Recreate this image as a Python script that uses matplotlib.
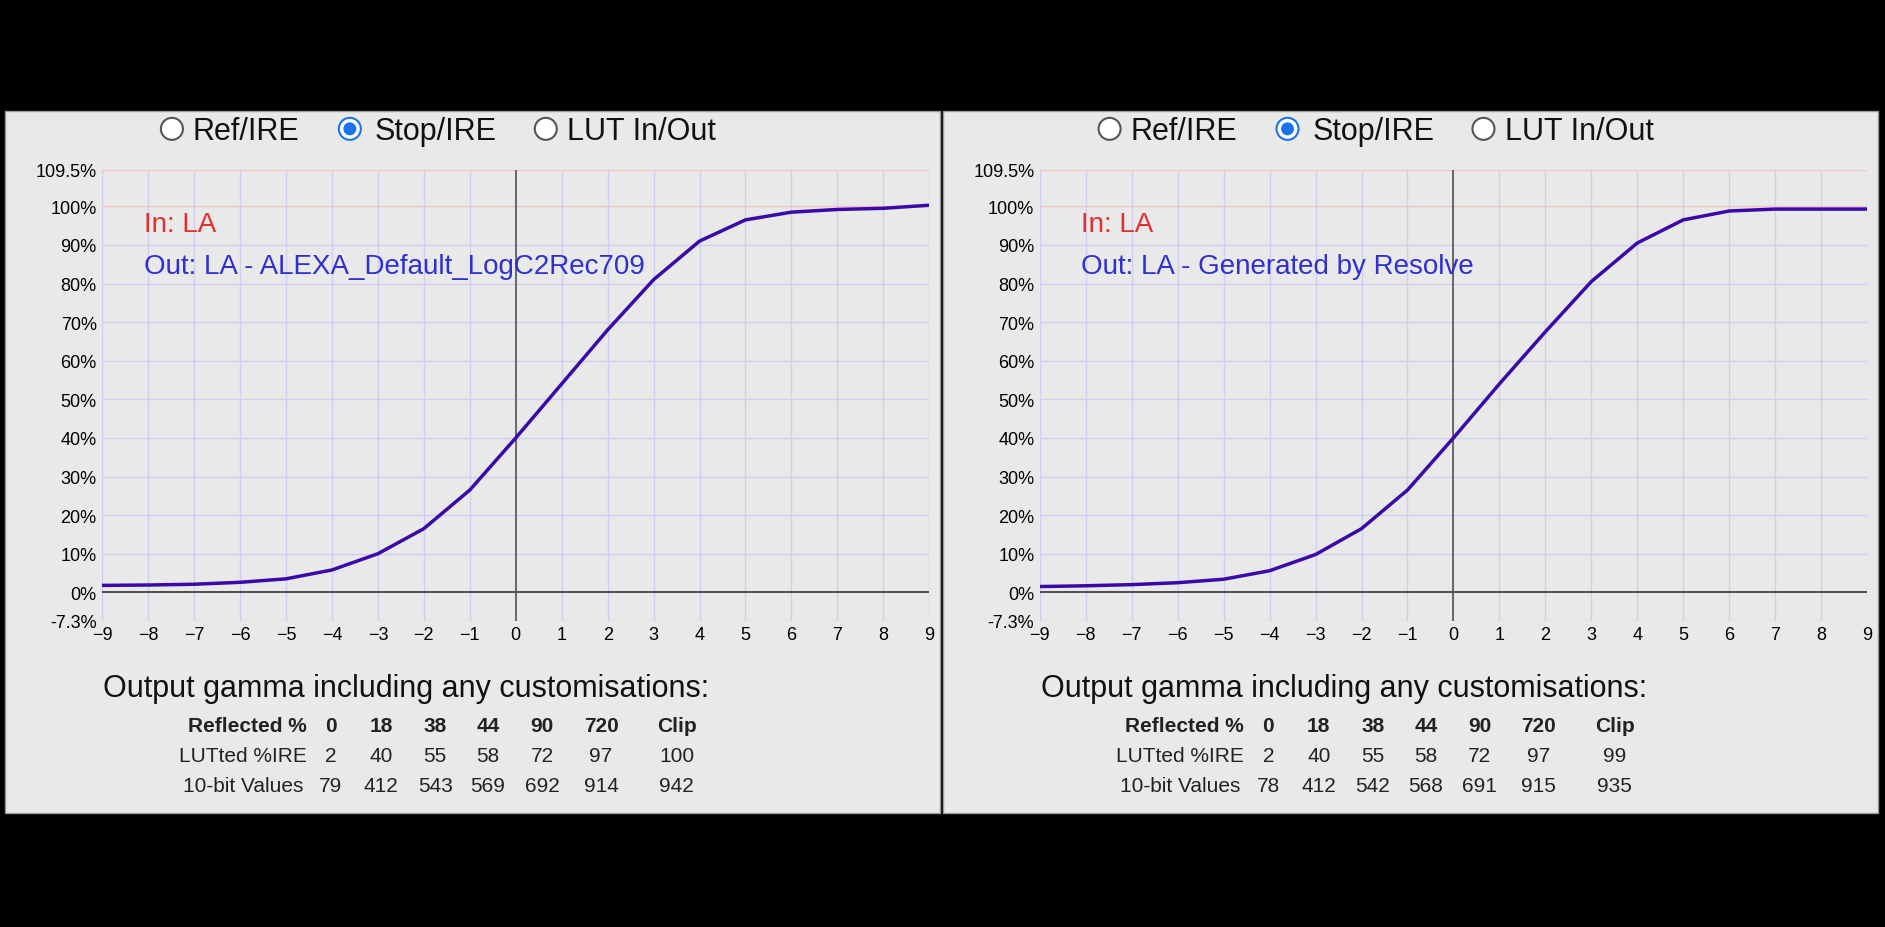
import numpy as np
import matplotlib.pyplot as plt
from matplotlib.patches import Rectangle, Circle

plt.rcParams['font.family'] = ['Liberation Sans', 'DejaVu Sans']

stops = list(range(-9, 10))
left_ire = [1.8, 1.9, 2.1, 2.6, 3.5, 5.8, 10, 16.5, 26.5, 40, 54, 68, 81, 91, 96.5, 98.5, 99.2, 99.5, 100.3]
right_ire = [1.5, 1.7, 2.0, 2.5, 3.4, 5.6, 9.8, 16.5, 26.5, 40, 54, 67.5, 80.5, 90.5, 96.5, 98.8, 99.3, 99.3, 99.3]
titles = ["Out: LA - ALEXA_Default_LogC2Rec709", "Out: LA - Generated by Resolve"]
reflected = ["0", "18", "38", "44", "90", "720", "Clip"]
left_luted = ["2", "40", "55", "58", "72", "97", "100"]
right_luted = ["2", "40", "55", "58", "72", "97", "99"]
left_10bit = ["79", "412", "543", "569", "692", "914", "942"]
right_10bit = ["78", "412", "542", "568", "691", "915", "935"]
ytick_vals = [-7.3, 0, 10, 20, 30, 40, 50, 60, 70, 80, 90, 100, 109.5]

W, H = 1885, 928
s = W / 1568.0  # display -> pixel scale

fig = plt.figure(figsize=(W / 100, H / 100), dpi=100, facecolor='black')

def fx(x):
    return x * s / W

def fy(y):
    return 1 - y * s / H

col_x = [275, 317, 362, 406, 451, 500, 563]

for p, (ire, title, luted, tenbit) in enumerate([
        (left_ire, titles[0], left_luted, left_10bit),
        (right_ire, titles[1], right_luted, right_10bit)]):
    off = 780 * p
    # panel background
    fig.patches.append(Rectangle((fx(4 + off), fy(677)), fx(778), fy(93) - fy(677),
                                 transform=fig.transFigure, facecolor='#e9e9e9',
                                 edgecolor='#999999', lw=1, zorder=-5))
    # radio buttons
    for cx, label, tx, on in [(143, "Ref/IRE", 160, False), (291, "Stop/IRE", 312, True),
                              (454, "LUT In/Out", 472, False)]:
        fig.patches.append(Circle((cx * s + off * s, H - 108 * s), 11,
                                  transform=None, facecolor='white',
                                  edgecolor='#1a73e8' if on else '#555555', lw=1.5, zorder=3))
        if on:
            fig.patches.append(Circle((cx * s + off * s, H - 108 * s), 6.5,
                                      transform=None, facecolor='#1a73e8', lw=0, zorder=4))
        fig.text(fx(tx + off), fy(110), label, fontsize=22, va='center', ha='left', color='#111111')

    ax = fig.add_axes([fx(85 + off), fy(517), fx(773) - fx(85), fy(142) - fy(517)])
    ax.set_zorder(2)
    ax.set_facecolor('#e9e9e9')
    ax.set_xlim(-9, 9)
    ax.set_ylim(-7.3, 109.5)
    for x in stops:
        ax.axvline(x, color='#cfcfee', lw=1, zorder=1)
    for y in ytick_vals[2:-2]:
        ax.axhline(y, color='#cfcfee', lw=1, zorder=1)
    for y in [-7.3, 100, 109.5]:
        ax.axhline(y, color='#f0c4c4', lw=1, zorder=1)
    ax.axhline(0, color='#333333', lw=1.2, zorder=2)
    ax.axvline(0, color='#555555', lw=1.2, zorder=2)
    ax.plot(stops, ire, color='#3a0aa8', lw=2.5, zorder=3)
    ax.set_xticks(stops)
    ax.set_yticks(ytick_vals)
    ax.set_yticklabels([f"{v:g}%" for v in ytick_vals])
    ax.tick_params(length=0, labelsize=13, pad=4)
    for sp in ax.spines.values():
        sp.set_visible(False)
    ax.text(-8.1, 95.5, "In: LA", color='#e03030', fontsize=20, va='center')
    ax.text(-8.1, 84.5, title, color='#3030d0', fontsize=20, va='center')

    fig.text(fx(86 + off), fy(573), "Output gamma including any customisations:",
             fontsize=22, va='center', color='#111111')
    fig.text(fx(255 + off), fy(604), "Reflected %", fontsize=15, weight='bold',
             ha='right', va='center', color='#222222')
    fig.text(fx(255 + off), fy(629), "LUTted %IRE", fontsize=15, ha='right', va='center', color='#222222')
    fig.text(fx(252 + off), fy(654), "10-bit Values", fontsize=15, ha='right', va='center', color='#222222')
    for i, cx in enumerate(col_x):
        fig.text(fx(cx + off), fy(604), reflected[i], fontsize=15, weight='bold',
                 ha='center', va='center', color='#222222')
        fig.text(fx(cx + off), fy(629), luted[i], fontsize=15, ha='center', va='center', color='#222222')
        fig.text(fx(cx + off), fy(654), tenbit[i], fontsize=15, ha='center', va='center', color='#222222')

fig.savefig('out.png', dpi=100, facecolor='black')
